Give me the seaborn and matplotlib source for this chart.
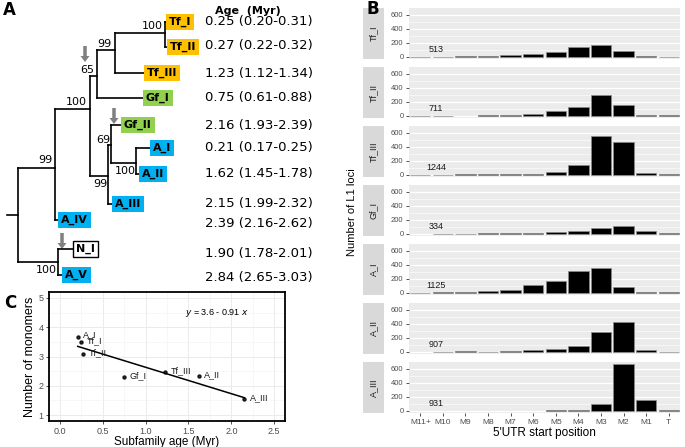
import numpy as np
import pandas as pd
import seaborn as sns
import matplotlib.pyplot as plt
from matplotlib.patches import Rectangle

# Panel A: tips of the tree and their ages
tips = ['Tf_I', 'Tf_II', 'Tf_III', 'Gf_I', 'Gf_II', 'A_I', 'A_II', 'A_III', 'A_IV', 'N_I', 'A_V']
tip_group = ['Tf', 'Tf', 'Tf', 'Gf', 'Gf', 'A', 'A', 'A', 'A', 'N', 'A']
ages = ['0.25 (0.20-0.31)', '0.27 (0.22-0.32)', '1.23 (1.12-1.34)', '0.75 (0.61-0.88)',
        '2.16 (1.93-2.39)', '0.21 (0.17-0.25)', '1.62 (1.45-1.78)', '2.15 (1.99-2.32)',
        '2.39 (2.16-2.62)', '1.90 (1.78-2.01)', '2.84 (2.65-3.03)']
# internal nodes: children and bootstrap support
children = {
    'root': ['n99a', 'n100b'],
    'n99a': ['n100c', 'A_IV'],
    'n100c': ['n65', 'nX'],
    'n65': ['n99d', 'Gf_I'],
    'n99d': ['n100e', 'Tf_III'],
    'n100e': ['Tf_I', 'Tf_II'],
    'nX': ['nY', 'A_III'],
    'nY': ['Gf_II', 'n100f'],
    'n100f': ['A_I', 'A_II'],
    'n100b': ['N_I', 'A_V'],
}
support = {'n100e': '100', 'n99d': '99', 'n65': '65', 'n100c': '100', 'nY': '69',
           'nX': '99', 'n100f': '100', 'n99a': '99', 'n100b': '100'}

# Panel C: subfamily age vs number of monomers
c_names = ['A_I', 'Tf_I', 'Tf_II', 'Gf_I', 'Tf_III', 'A_II', 'A_III']
c_age = [0.21, 0.25, 0.27, 0.75, 1.23, 1.62, 2.15]
c_monomers = [3.68, 3.50, 3.08, 2.30, 2.46, 2.33, 1.55]

# Panel B: 5'UTR start position counts
positions = ['M11+', 'M10', 'M9', 'M8', 'M7', 'M6', 'M5', 'M4', 'M3', 'M2', 'M1', 'T']
b_families = ['Tf_I', 'Tf_II', 'Tf_III', 'Gf_I', 'A_I', 'A_II', 'A_III']
tf1 = [1, 1, 4, 6, 25, 40, 60, 135, 160, 75, 5, 2]
tf2 = [1, 2, 0, 8, 12, 18, 70, 130, 295, 155, 8, 5]
tf3 = [1, 2, 3, 8, 10, 15, 40, 135, 545, 460, 20, 5]
gf1 = [0, 2, 2, 3, 8, 10, 20, 45, 85, 115, 40, 4]
a1 = [2, 5, 14, 28, 40, 105, 170, 310, 355, 80, 9, 5]
a2 = [0, 2, 3, 2, 8, 24, 43, 86, 283, 422, 24, 2]
a3 = [0, 0, 0, 0, 0, 0, 5, 15, 98, 660, 150, 3]
totals = [513, 711, 1244, 334, 1125, 907, 931]
counts = [tf1, tf2, tf3, gf1, a1, a2, a3]

group_colors = {'Tf': '#FFC000', 'Gf': '#92D050', 'A': '#00B0F0', 'N': 'white'}

fig = plt.figure(figsize=(6.85, 4.47), dpi=100)

# canvas in pixel units for the tree
bg = fig.add_axes([0, 0, 1, 1])
bg.set_xlim(0, 685)
bg.set_ylim(447, 0)
bg.axis('off')

# tree layout (pixels)
node_xy = {
    'root': (18, 215), 'n99a': (55, 168), 'n100b': (58, 262), 'n100c': (90, 109),
    'n65': (97, 76), 'n99d': (115, 50), 'n100e': (165, 33), 'nX': (108, 176),
    'nY': (111, 145), 'n100f': (136, 163),
    'Tf_I': (166, 22), 'Tf_II': (167, 47), 'Tf_III': (144, 73), 'Gf_I': (143, 98),
    'Gf_II': (121, 125), 'A_I': (150, 148), 'A_II': (139, 174), 'A_III': (112, 204),
    'A_IV': (58, 220), 'N_I': (73, 249), 'A_V': (62, 275),
}
label_xy = {'n100e': (163, 26), 'n99d': (112, 44), 'n65': (94, 70), 'n100c': (87, 102),
            'nY': (110, 140), 'nX': (108, 184), 'n100f': (136, 171), 'n99a': (53, 160),
            'n100b': (57, 270)}

bg.plot([7, 18], [215, 215], color='black', lw=1.2)
for parent, kids in children.items():
    px = node_xy[parent][0]
    ys = [node_xy[k][1] for k in kids]
    bg.plot([px, px], [min(ys), max(ys)], color='black', lw=1.2)
    for k in kids:
        bg.plot([px, node_xy[k][0]], [node_xy[k][1]] * 2, color='black', lw=1.2)

for node, txt in support.items():
    lx, ly = label_xy[node]
    bg.text(lx, ly, txt, ha='right', va='center', fontsize=8)

for tip, grp in zip(tips, tip_group):
    tx, ty = node_xy[tip]
    bg.text(tx + 3, ty, tip, ha='left', va='center', fontsize=8, fontweight='bold',
            bbox=dict(boxstyle='square,pad=0.25', fc=group_colors[grp],
                      ec='black' if grp == 'N' else 'none', lw=1))

for ax_x, y0 in [(85, 46), (114, 108), (62, 233)]:
    bg.arrow(ax_x, y0, 0, 16, width=3.5, head_width=9, head_length=6,
             length_includes_head=True, color='#808080', lw=0)

age_y = [22, 46, 73, 97, 126, 148, 173, 203, 223, 253, 278]
bg.text(248, 11, 'Age  (Myr)', ha='center', va='center', fontsize=8, fontweight='bold')
for a, y in zip(ages, age_y):
    bg.text(205, y, a, ha='left', va='center', fontsize=9.5)

plt.rcParams['font.family'] = ['Liberation Sans', 'DejaVu Sans']

# Panel B
for i, (fam, vals, tot) in enumerate(zip(b_families, counts, totals)):
    top = 8 + i * 59.0
    ax = fig.add_axes([409 / 685, 1 - (top + 51) / 447, 271 / 685, 51 / 447])
    df = pd.DataFrame({'pos': positions, 'n': vals})
    df = df[df['n'] > 0]
    ax.set_facecolor('#EBEBEB')
    for y in [100, 300, 500]:
        ax.axhline(y, color='white', lw=0.4, zorder=0)
    for y in [0, 200, 400, 600]:
        ax.axhline(y, color='white', lw=0.9, zorder=0)
    sns.barplot(data=df, x='pos', y='n', order=positions, color='black', saturation=1,
                edgecolor='#8c8c8c', linewidth=0.5, width=0.9, ax=ax, zorder=2)
    ax.set_xlim(-0.5, 11.5)
    ax.set_ylim(-33, 693)
    ax.set_yticks([0, 200, 400, 600])
    ax.tick_params(axis='y', labelsize=5.5, labelcolor='#4D4D4D', length=2.5,
                   width=0.6, color='#333333', pad=1.5)
    for s in ax.spines.values():
        s.set_visible(False)
    ax.set_xlabel('')
    ax.set_ylabel('')
    if i < len(b_families) - 1:
        ax.set_xticks([])
    else:
        ax.tick_params(axis='x', labelsize=6, labelcolor='#4D4D4D', length=2.5,
                       width=0.6, color='#333333', pad=1.5)
        ax.set_xlabel("5'UTR start position", fontsize=8.5, labelpad=1)
    ax.text(0.7, 100, str(tot), ha='center', va='center', fontsize=6.5, color='#1A1A1A')
    ax.add_patch(Rectangle((-0.17, 0), 0.0775, 1, transform=ax.transAxes,
                           fc='#D9D9D9', ec='none', clip_on=False))
    ax.text(-0.17 + 0.0775 / 2, 0.5, fam, rotation=90, ha='center', va='center',
            transform=ax.transAxes, fontsize=6.5, color='#1A1A1A')

fig.text(352 / 685, 1 - 212 / 447, 'Number of L1 loci', rotation=90, ha='center',
         va='center', fontsize=8)

# Panel C
axc = fig.add_axes([49 / 685, 1 - 421 / 447, 236 / 685, 129 / 447])
sns.regplot(x=c_age, y=c_monomers, ci=None, ax=axc, color='black',
            scatter_kws=dict(s=5, zorder=3), line_kws=dict(lw=1.1))
axc.set_xlim(-0.125, 2.625)
axc.set_ylim(0.8, 5.2)
axc.set_xticks([0, 0.5, 1.0, 1.5, 2.0, 2.5])
axc.set_xticklabels(['0.0', '0.5', '1.0', '1.5', '2.0', '2.5'])
axc.set_yticks([1, 2, 3, 4, 5])
axc.set_xticks(np.arange(0.25, 2.6, 0.5), minor=True)
axc.set_yticks([1.5, 2.5, 3.5, 4.5], minor=True)
axc.grid(which='major', color='#EBEBEB', lw=0.7)
axc.grid(which='minor', color='#F2F2F2', lw=0.4)
axc.set_axisbelow(True)
axc.tick_params(which='major', labelsize=6.5, labelcolor='#4D4D4D', length=2.5,
                width=0.6, color='#333333', pad=1.5)
axc.tick_params(which='minor', length=0)
for s in axc.spines.values():
    s.set_color('black')
    s.set_linewidth(1.3)
axc.set_xlabel('Subfamily age (Myr)', fontsize=8.5, labelpad=0)
axc.set_ylabel('Number of monomers', fontsize=9, labelpad=2)
for name, xv, yv in zip(c_names, c_age, c_monomers):
    axc.annotate(name, (xv, yv), xytext=(4, 1), textcoords='offset points',
                 fontsize=6.5, color='#1A1A1A', va='center')
axc.text(1.83, 4.49, r'$y$ = 3.6 - 0.91 $x$', ha='center', va='center', fontsize=6.5)

# panel letters on top of everything
for letter, lx, ly in [('A', 3, 1), ('B', 367, 0), ('C', 4, 294)]:
    fig.text(lx / 685, 1 - ly / 447, letter, fontsize=12, fontweight='bold',
             va='top', ha='left', family='DejaVu Sans', zorder=10)

fig.savefig('out.png', dpi=100)
